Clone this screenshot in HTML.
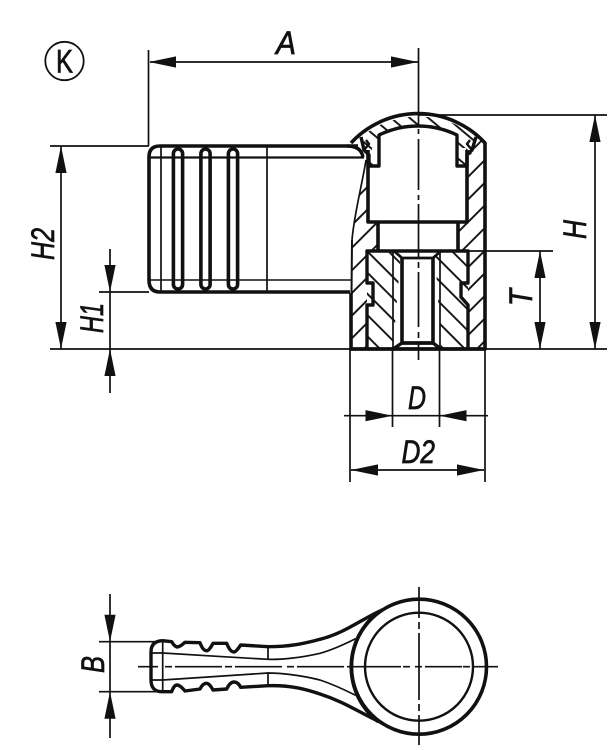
<!DOCTYPE html>
<html><head><meta charset="utf-8"><style>html,body{margin:0;padding:0;background:#fff}svg{display:block}text{font-family:"Liberation Sans",sans-serif;font-size:32px;fill:#111;stroke:#111;stroke-width:.7px;font-style:italic}</style></head><body>
<svg xmlns="http://www.w3.org/2000/svg" width="611" height="750" viewBox="0 0 611 750">
<defs>
<pattern id="hb" patternUnits="userSpaceOnUse" width="16" height="16" patternTransform="rotate(45)"><line x1="8" y1="0" x2="8" y2="16" stroke="#111" stroke-width="1.9"/></pattern>
<pattern id="hi" patternUnits="userSpaceOnUse" width="15" height="15" patternTransform="rotate(-45)"><line x1="7" y1="0" x2="7" y2="15" stroke="#111" stroke-width="1.9"/></pattern>
<pattern id="hc" patternUnits="userSpaceOnUse" width="12" height="12" patternTransform="rotate(-50)"><line x1="5" y1="0" x2="5" y2="12" stroke="#111" stroke-width="1.9"/></pattern>
<g id="ar"><path d="M0 0L27 -5.6L27 5.6Z" fill="#111"/></g>
</defs>
<rect width="611" height="750" fill="#fff"/>

<!-- K symbol -->
<circle cx="64.5" cy="61" r="19.2" fill="none" stroke="#111" stroke-width="1.8"/>
<text x="64.5" y="72.5" text-anchor="middle" textLength="17" lengthAdjust="spacingAndGlyphs" style="font-style:normal">K</text>

<!-- hatching -->
<path d="M368 160C362 185 354 215 352 240L351 349H367V251H378V222H368Z" fill="url(#hb)"/>
<path d="M472 132L485 145V349H468V251H458V222H467V166Z" fill="url(#hb)"/>
<path d="M367 251H401L393 349H367Z" fill="url(#hi)"/>
<path d="M435 251H468V349H441Z" fill="url(#hi)"/>
<path d="M361 137A91 91 0 0 1 476 137L468 166H457V135A89 89 0 0 0 379 135V166H369Z" fill="url(#hc)"/>
<path d="M372 148l6 0l0 10l-6 0Z M458 148l8 0l0 10l-8 0Z" fill="#fff"/>

<g fill="none" stroke="#111" stroke-linejoin="round">
<!-- handle side view -->
<path d="M358 146H160Q149 146 149 157V280Q149 292 160 292H350" stroke-width="3.6"/>
<path d="M347 146Q361 146 363 157" stroke-width="3.4"/>
<rect x="173.4" y="149" width="9.2" height="140" rx="4.6" stroke-width="3.6"/>
<rect x="200.9" y="149" width="9.2" height="140" rx="4.6" stroke-width="3.6"/>
<rect x="228.4" y="149" width="9.2" height="140" rx="4.6" stroke-width="3.6"/>
<path d="M150 157.5H364" stroke-width="2.2"/>
<path d="M150 280H351" stroke-width="1.6"/>
<path d="M161 146V292M267 146V292" stroke-width="1.7"/>
<!-- break line -->
<path d="M366 160C362 185 354 215 352 240" stroke-width="1.7"/>

<!-- body outline -->
<path d="M351 143A91 91 0 0 1 485 143V349H351V293" stroke-width="3.6"/>
<path d="M352 240L351 349" stroke-width="2"/>
<path d="M351 349H485" stroke-width="3.6"/>
<!-- cap inner -->
<path d="M361 137L364 150L369 155V166H379V135A89 89 0 0 1 457 135V166H467V155L472 150L476 137" stroke-width="3.4"/>
<path d="M368 150V222H467V150" stroke-width="3.6"/>
<path d="M364 150l5 -6l-3 -4M472 150l-5 -6l3 -4" stroke-width="2.4"/>
<path d="M378 222V251M458 222V251" stroke-width="3.6"/>
<!-- insert -->
<path d="M367 349V305H373V283H367V251H468V283H461V297L468 305V349" stroke-width="3.4"/>
<path d="M394 251L402 258H433L441 251" stroke-width="2.8"/>
<path d="M402 258V343H433V258" stroke-width="3.6"/>
<path d="M402 343L393 349M433 343L441 349" stroke-width="3.4"/>
<path d="M402 343H433" stroke-width="3.6"/>
<path d="M393 251V349M440 251V349" stroke-width="1.7"/>
</g>

<g stroke="#111" stroke-width="1.7" fill="none">
<!-- dimension lines -->
<path d="M148.5 50V146M50 146H149M50 349H607M99 292H149M419 115H607M468 251H553"/>
<path d="M350 349V482M392.5 349V427M439.5 349V427M485 349V482"/>
<path d="M150 62H418M61 146V349M110 249V393M595 115V349M540 251V349"/>
<path d="M344 415.7H488M351 470H484"/>
<path d="M110 594V738M99 641.7H160M99 691.7H160"/>
</g>
<!-- arrowheads -->
<g>
<use href="#ar" transform="translate(149,62)"/>
<use href="#ar" transform="translate(418,62) rotate(180)"/>
<use href="#ar" transform="translate(61,146) rotate(90)"/>
<use href="#ar" transform="translate(61,349) rotate(-90)"/>
<use href="#ar" transform="translate(110,292) rotate(-90)"/>
<use href="#ar" transform="translate(110,349) rotate(90)"/>
<use href="#ar" transform="translate(595,115) rotate(90)"/>
<use href="#ar" transform="translate(595,349) rotate(-90)"/>
<use href="#ar" transform="translate(540,251) rotate(90)"/>
<use href="#ar" transform="translate(540,349) rotate(-90)"/>
<use href="#ar" transform="translate(392.5,415.7) rotate(180)"/>
<use href="#ar" transform="translate(439.5,415.7)"/>
<use href="#ar" transform="translate(351,470)"/>
<use href="#ar" transform="translate(484,470) rotate(180)"/>
<use href="#ar" transform="translate(110,641.7) rotate(-90)"/>
<use href="#ar" transform="translate(110,691.7) rotate(90)"/>
</g>

<!-- axis top view -->
<path d="M418.5 48V125M418.5 129V134M418.5 139V190M418.5 195V200M418.5 204V258M418.5 262V268M418.5 272V327M418.5 332V338M418.5 342V360" stroke="#111" stroke-width="1.7" fill="none"/>

<!-- labels -->
<text x="276" y="54" textLength="20" lengthAdjust="spacingAndGlyphs">A</text>
<text x="408" y="409" textLength="18" lengthAdjust="spacingAndGlyphs">D</text>
<text x="401.5" y="463" textLength="33.5" lengthAdjust="spacingAndGlyphs">D2</text>
<text transform="translate(54,260) rotate(-90)" textLength="32" lengthAdjust="spacingAndGlyphs">H2</text>
<text transform="translate(103,333) rotate(-90)" textLength="30" lengthAdjust="spacingAndGlyphs">H1</text>
<text transform="translate(586,239) rotate(-90)" textLength="19" lengthAdjust="spacingAndGlyphs">H</text>
<text transform="translate(532,306) rotate(-90)" textLength="17" lengthAdjust="spacingAndGlyphs">T</text>
<text transform="translate(104,673) rotate(-90)" textLength="17" lengthAdjust="spacingAndGlyphs">B</text>

<!-- bottom view -->
<g fill="none" stroke="#111" stroke-linejoin="round" stroke-linecap="round">
<path d="M382 610C360 620 345 633 320 639.3C305 643.5 290 646.7 268 646.7L240.7 645Q236 652 234 652Q230 652 226.7 643.3L213 643.3Q209 651 206.7 650.7Q203 651 200 642.7L185 642.3Q180 647 177 647Q174 646 171.7 641.7L162.7 640.7Q151 641 151 652V680Q151 692 162.7 691.7L171.7 691.7Q174 685 177 685Q180 685 185 691L200 689Q203 683 206.7 683.3Q210 684 213 690L226.7 689Q230 682 234 682Q238 682 240.7 687.3L268 685.7C290 685 305 689 320 694C345 702 360 713 382 723" stroke-width="3.4"/>
<circle cx="419" cy="666.7" r="67.5" stroke-width="3.6"/>
<circle cx="419" cy="666.7" r="54" stroke-width="2.4"/>
<path d="M377 612A70 70 0 0 0 377 722" stroke-width="1.7"/>
<path d="M151 653L162.7 653L223 656.7L268 659.3C280 659.8 300 658 320 653.3C332 650 343 645 355 639" stroke-width="1.7"/>
<path d="M151 680L162.7 680L223 676L268 673C280 673 300 675 320 680C332 684 343 689 355 695" stroke-width="1.7"/>
<path d="M162.7 641V692M268 646.7V659.3M268 673V685.7" stroke-width="1.7"/>
</g>
<path d="M138 666.7H158M165 666.7H172M175 666.7H222M225 666.7H232M235 666.7H282M287 666.7H294M297 666.7H344M347 666.7H401M403 666.7H410M415 666.7H422M425 666.7H462M463 666.7H470M473 666.7H498" stroke="#111" stroke-width="1.7" fill="none"/>
<path d="M419 587V618M419 622V629M419 633V700M419 704V711M419 715V745" stroke="#111" stroke-width="1.7" fill="none"/>
</svg>
</body></html>
